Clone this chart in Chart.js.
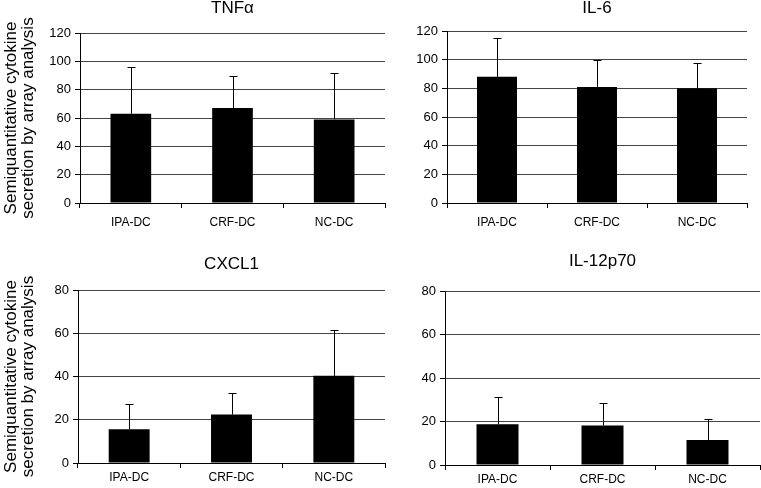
<!DOCTYPE html>
<html>
<head>
<meta charset="utf-8">
<script src="https://cdn.jsdelivr.net/npm/chart.js@4/dist/chart.umd.min.js"></script>
<style>
  body { margin: 0; background: #fff; }
  #wrap { position: relative; width: 761px; height: 488px; }
  #wrap canvas { position: absolute; }
</style>
</head>
<body>
<div id="wrap">
  <canvas id="tnf" width="390" height="235" style="left:0;top:0"></canvas>
  <canvas id="il6" width="371" height="235" style="left:390px;top:0"></canvas>
  <canvas id="cxcl1" width="390" height="248" style="left:0;top:240px"></canvas>
  <canvas id="il12" width="371" height="248" style="left:390px;top:240px"></canvas>
</div>
<script>
const categories = ['IPA-DC', 'CRF-DC', 'NC-DC'];

const tnfMeans = [63, 67, 59];
const tnfErrors = [33, 23, 33];

const il6Means = [88, 81, 80];
const il6Errors = [27, 19, 18];

const cxcl1Means = [15.6, 22.4, 40.3];
const cxcl1Errors = [11.6, 10.2, 21];

const il12Means = [18.7, 18.2, 11.5];
const il12Errors = [12.4, 10.3, 9.5];

const yTitle = ['Semiquantitative cytokine', 'secretion by array analysis'];
const FONT = 'Arial, "Liberation Sans", sans-serif';

// upward-only error bars, drawn through the y scale
const errorBars = {
  id: 'errorBars',
  afterDatasetsDraw(chart) {
    const ctx = chart.ctx;
    const yScale = chart.scales.y;
    const errs = chart.options.plugins.errorBars.errors;
    const means = chart.data.datasets[0].data;
    chart.getDatasetMeta(0).data.forEach((bar, i) => {
      const top = Math.round(yScale.getPixelForValue(means[i] + errs[i])) + 0.5;
      const x = Math.round(bar.x) + 0.5;
      ctx.save();
      ctx.strokeStyle = '#000';
      ctx.lineWidth = 1;
      ctx.beginPath();
      ctx.moveTo(x, bar.y);
      ctx.lineTo(x, top);
      ctx.moveTo(x - 4, top);
      ctx.lineTo(x + 4, top);
      ctx.stroke();
      ctx.restore();
    });
  }
};

function makePanel(id, title, means, errors, cfg) {
  new Chart(document.getElementById(id), {
    type: 'bar',
    data: {
      labels: categories,
      datasets: [{
        data: means,
        backgroundColor: '#000',
        borderWidth: 0,
        barPercentage: 0.4,
        categoryPercentage: 1
      }]
    },
    options: {
      responsive: false,
      animation: false,
      layout: { padding: { left: 0, right: cfg.padRight, top: 0, bottom: 0 } },
      plugins: {
        legend: { display: false },
        tooltip: { enabled: false },
        errorBars: { errors },
        title: {
          display: true,
          text: title,
          fullSize: false,
          color: '#000',
          font: { family: FONT, size: 17, weight: 'normal', lineHeight: 1 },
          padding: { top: cfg.titleTop, bottom: cfg.titleBottom }
        }
      },
      scales: {
        x: {
          grid: { display: true, drawOnChartArea: false, offset: true, color: '#000', tickLength: 5 },
          border: { color: '#000', width: 1 },
          ticks: { color: '#000', font: { family: FONT, size: 12 }, padding: cfg.xPad, maxRotation: 0 },
          afterFit: s => { s.height = cfg.xHeight; }
        },
        y: {
          min: 0,
          max: cfg.max,
          ticks: { stepSize: 20, color: '#000', font: { family: FONT, size: 13 }, padding: 4 },
          grid: { color: '#444', tickColor: '#000', tickLength: 5 },
          border: { color: '#000', width: 1 },
          title: {
            display: cfg.showYTitle,
            text: yTitle,
            color: '#000',
            font: { family: FONT, size: 17, lineHeight: 1 },
            padding: { top: 3, bottom: 0 }
          },
          afterFit: s => { s.width = cfg.yWidth; }
        }
      }
    },
    plugins: [errorBars]
  });
}

makePanel('tnf', 'TNFα', tnfMeans, tnfErrors,
  { padRight: 5, yWidth: 80, xHeight: 32, xPad: 7, max: 120, titleTop: 0, titleBottom: 16, showYTitle: true });
makePanel('il6', 'IL-6', il6Means, il6Errors,
  { padRight: 14, yWidth: 57, xHeight: 32, xPad: 7, max: 120, titleTop: 0, titleBottom: 14, showYTitle: false });
makePanel('cxcl1', 'CXCL1', cxcl1Means, cxcl1Errors,
  { padRight: 5, yWidth: 78, xHeight: 25, xPad: 2, max: 80, titleTop: 16, titleBottom: 17, showYTitle: true });
makePanel('il12', 'IL-12p70', il12Means, il12Errors,
  { padRight: 1, yWidth: 55, xHeight: 23, xPad: 2, max: 80, titleTop: 13, titleBottom: 21, showYTitle: false });
</script>
</body>
</html>
